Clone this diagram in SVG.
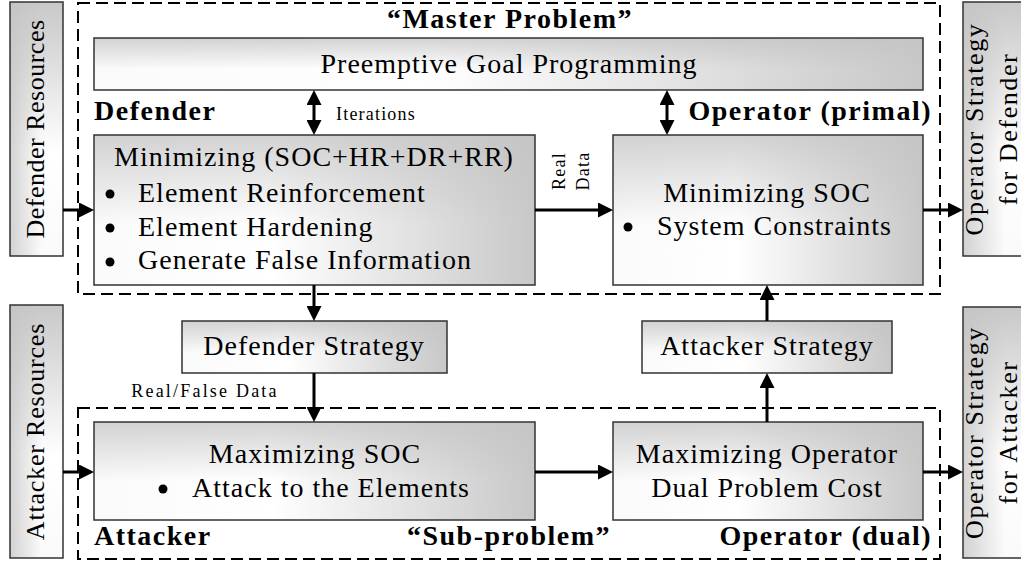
<svg xmlns="http://www.w3.org/2000/svg" width="1021" height="565" viewBox="0 0 1021 565">
<style>
.gh{fill:url(#gH)}
.gv{fill:url(#gV);stroke:#333;stroke-width:1.5}
.dash{fill:none;stroke:#000;stroke-width:2;stroke-dasharray:12 6}
.t{font-size:28px;letter-spacing:1px;fill:#000}
.m{text-anchor:middle}
.e{text-anchor:end}
.b{font-weight:bold;letter-spacing:1.5px}
.s{font-size:18px;letter-spacing:1.2px}
.side{font-size:26px;letter-spacing:1px}
.ed{stroke:#000;stroke-width:3;fill:none;marker-end:url(#ah)}
.dbl{marker-start:url(#ah)}
</style>
<defs>
<linearGradient id="gH" x1="0" y1="0" x2="1" y2="0">
<stop offset="0" stop-color="#fafafa"/>
<stop offset="0.4" stop-color="#ffffff"/>
<stop offset="1" stop-color="#c8c8c8"/>
</linearGradient>
<linearGradient id="gV" x1="0" y1="0" x2="0" y2="1">
<stop offset="0" stop-color="#c4c4c4" stop-opacity="0.75"/>
<stop offset="0.6" stop-color="#c4c4c4" stop-opacity="0"/>
</linearGradient>
<marker id="ah" markerUnits="userSpaceOnUse" markerWidth="15" markerHeight="15" refX="9" refY="7.5" orient="auto-start-reverse">
<path d="M0,0 L15,7.5 L0,15 z" fill="#000"/>
</marker>
</defs>

<g id="master-frame">
<rect class="dash" x="78" y="3" width="862" height="291"/>
<text font-family="Liberation Serif" class="t b m" x="510" y="28">“Master Problem”</text>
</g>
<g id="sub-frame">
<rect class="dash" x="78" y="408" width="862" height="151"/>
<text font-family="Liberation Serif" class="t b m" x="509" y="545">“Sub-problem”</text>
</g>

<g id="preemptive">
<rect class="gh" x="94" y="38" width="829" height="52"/>
<rect class="gv" x="94" y="38" width="829" height="52"/>
<text font-family="Liberation Serif" class="t m" x="509" y="73">Preemptive Goal Programming</text>
</g>

<g id="defender-label"><text font-family="Liberation Serif" class="t b" x="94" y="120">Defender</text></g>
<g id="operator-primal-label"><text font-family="Liberation Serif" class="t b e" x="932" y="120">Operator (primal)</text></g>

<g id="defender-min">
<rect class="gh" x="94" y="135" width="441" height="150"/>
<rect class="gv" x="94" y="135" width="441" height="150"/>
<text font-family="Liberation Serif" class="t m" x="314" y="166">Minimizing (SOC+HR+DR+RR)</text>
<circle cx="110" cy="194" r="4.5"/>
<text font-family="Liberation Serif" class="t" x="138" y="202">Element Reinforcement</text>
<circle cx="110" cy="228" r="4.5"/>
<text font-family="Liberation Serif" class="t" x="138" y="236">Element Hardening</text>
<circle cx="110" cy="262" r="4.5"/>
<text font-family="Liberation Serif" class="t" x="138" y="269">Generate False Information</text>
</g>

<g id="operator-primal">
<rect class="gh" x="613" y="135" width="310" height="150"/>
<rect class="gv" x="613" y="135" width="310" height="150"/>
<text font-family="Liberation Serif" class="t m" x="767" y="202">Minimizing SOC</text>
<circle cx="628" cy="227" r="4.5"/>
<text font-family="Liberation Serif" class="t" x="657" y="235">System Constraints</text>
</g>

<g id="defender-resources" transform="translate(36.5,129) rotate(-90)">
<rect class="gh" x="-127" y="-26.5" width="254" height="53"/>
<rect class="gv" x="-127" y="-26.5" width="254" height="53"/>
<text font-family="Liberation Serif" class="t side m" x="0" y="7" style="letter-spacing:0.5px">Defender Resources</text>
</g>

<g id="op-strategy-defender" transform="translate(998,129) rotate(-90)">
<rect class="gh" x="-127" y="-35" width="254" height="70"/>
<rect class="gv" x="-127" y="-35" width="254" height="70"/>
<text font-family="Liberation Serif" class="t side m" x="0" y="-15" style="letter-spacing:1.6px">Operator Strategy</text>
<text font-family="Liberation Serif" class="t side m" x="0" y="19" style="letter-spacing:1.6px">for Defender</text>
</g>

<g id="defender-strategy">
<rect class="gh" x="182" y="321" width="265" height="52"/>
<rect class="gv" x="182" y="321" width="265" height="52"/>
<text font-family="Liberation Serif" class="t m" x="314" y="355">Defender Strategy</text>
</g>

<g id="attacker-strategy">
<rect class="gh" x="642" y="321" width="250" height="52"/>
<rect class="gv" x="642" y="321" width="250" height="52"/>
<text font-family="Liberation Serif" class="t m" x="767" y="355">Attacker Strategy</text>
</g>

<g id="attacker-max">
<rect class="gh" x="94" y="422" width="441" height="98"/>
<rect class="gv" x="94" y="422" width="441" height="98"/>
<text font-family="Liberation Serif" class="t m" x="315" y="463">Maximizing SOC</text>
<circle cx="163" cy="489" r="4.5"/>
<text font-family="Liberation Serif" class="t" x="192" y="497">Attack to the Elements</text>
</g>

<g id="operator-dual">
<rect class="gh" x="613" y="422" width="310" height="98"/>
<rect class="gv" x="613" y="422" width="310" height="98"/>
<text font-family="Liberation Serif" class="t m" x="767" y="463">Maximizing Operator</text>
<text font-family="Liberation Serif" class="t m" x="767" y="497">Dual Problem Cost</text>
</g>

<g id="attacker-resources" transform="translate(36.5,431.5) rotate(-90)">
<rect class="gh" x="-126.5" y="-26.5" width="253" height="53"/>
<rect class="gv" x="-126.5" y="-26.5" width="253" height="53"/>
<text font-family="Liberation Serif" class="t side m" x="0" y="7" style="letter-spacing:0.8px">Attacker Resources</text>
</g>

<g id="op-strategy-attacker" transform="translate(998,432.5) rotate(-90)">
<rect class="gh" x="-125.5" y="-35" width="251" height="70"/>
<rect class="gv" x="-125.5" y="-35" width="251" height="70"/>
<text font-family="Liberation Serif" class="t side m" x="0" y="-15" style="letter-spacing:1.6px">Operator Strategy</text>
<text font-family="Liberation Serif" class="t side m" x="0" y="19" style="letter-spacing:1.6px">for Attacker</text>
</g>

<g id="attacker-label"><text font-family="Liberation Serif" class="t b" x="94" y="545">Attacker</text></g>
<g id="operator-dual-label"><text font-family="Liberation Serif" class="t b e" x="932" y="545">Operator (dual)</text></g>

<g id="connectors">
<line class="ed" x1="63" y1="210" x2="88" y2="210"/>
<line class="ed dbl" x1="314" y1="96" x2="314" y2="129"/>
<text font-family="Liberation Serif" class="t s" x="336" y="120">Iterations</text>
<line class="ed dbl" x1="667" y1="96" x2="667" y2="129"/>
<line class="ed" x1="535" y1="210" x2="607" y2="210"/>
<text font-family="Liberation Serif" class="t s m" transform="translate(565,171) rotate(-90)">Real</text>
<text font-family="Liberation Serif" class="t s m" transform="translate(589,171) rotate(-90)">Data</text>
<line class="ed" x1="923" y1="210" x2="957" y2="210"/>
<line class="ed" x1="314" y1="285" x2="314" y2="315"/>
<line class="ed" x1="314" y1="373" x2="314" y2="416"/>
<text font-family="Liberation Serif" class="t s m" x="205" y="397" style="letter-spacing:2.2px">Real/False Data</text>
<line class="ed" x1="63" y1="472" x2="88" y2="472"/>
<line class="ed" x1="535" y1="472" x2="607" y2="472"/>
<line class="ed" x1="923" y1="472" x2="957" y2="472"/>
<line class="ed" x1="767" y1="422" x2="767" y2="379"/>
<line class="ed" x1="767" y1="321" x2="767" y2="291"/>
</g>
</svg>
